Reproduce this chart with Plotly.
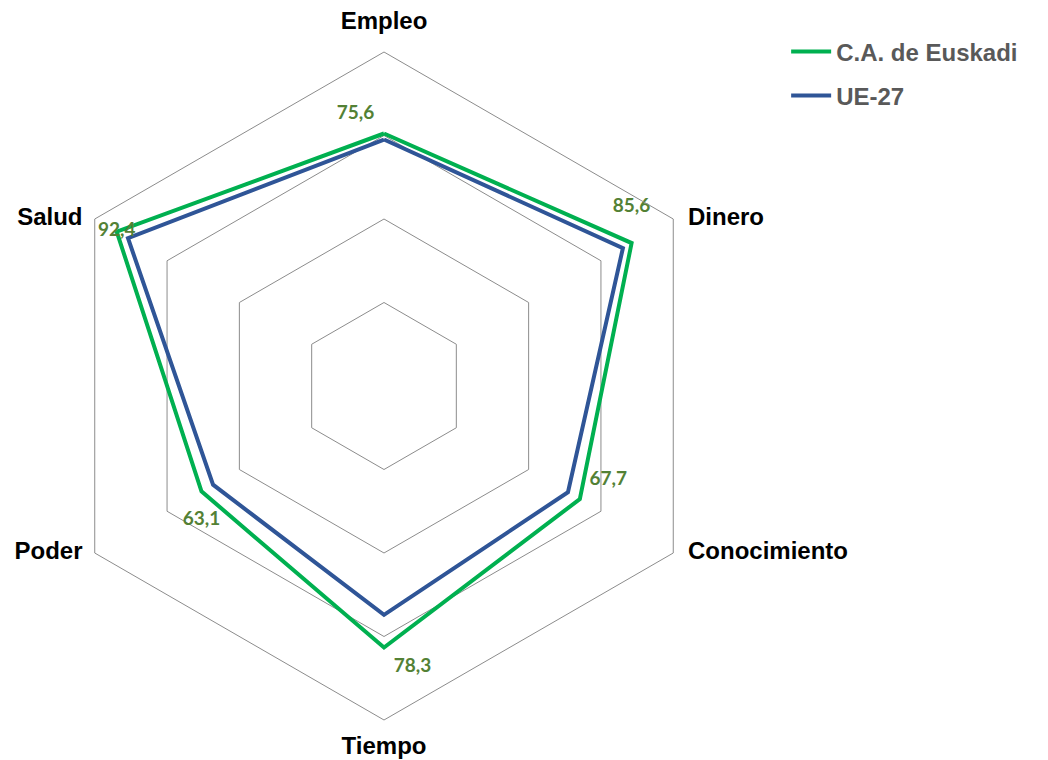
import plotly.graph_objects as go

categories = ["Empleo", "Dinero", "Conocimiento", "Tiempo", "Poder", "Salud"]
euskadi = [75.6, 85.6, 67.7, 78.3, 63.1, 92.4]
ue27 = [73.8, 82.6, 63.6, 68.5, 59.1, 88.5]
radial_max = 100
label_positions = ["top left", "top center", "top right", "bottom right", "bottom center", "middle center"]
category_positions = ["top center", "middle right", "middle right", "bottom center", "middle left", "middle left"]

def closed(vals):
    return list(vals) + [vals[0]]

def fmt(v):
    return f"{v:.1f}".replace(".", ",")

fig = go.Figure()
fig.add_trace(go.Scatterpolar(
    r=closed(ue27), theta=closed(categories), mode="lines",
    name="UE-27", line=dict(color="#2F5597", width=4),
    legendrank=2, legendgroup="b", hoverinfo="skip",
))
fig.add_trace(go.Scatterpolar(
    r=closed(euskadi), theta=closed(categories), mode="lines",
    name="C.A. de Euskadi", line=dict(color="#00B050", width=4),
    legendrank=1, legendgroup="a", hoverinfo="skip",
))
# data labels (invisible markers give the text its offset from the vertex)
fig.add_trace(go.Scatterpolar(
    r=euskadi, theta=categories, mode="markers+text",
    marker=dict(size=[14, 40, 14, 14, 30, 6], color="rgba(0,0,0,0)",
                line=dict(width=0, color="rgba(0,0,0,0)")),
    text=[fmt(v) for v in euskadi],
    textposition=label_positions,
    textfont=dict(family="Lato", size=19, color="#538135", weight="bold"),
    showlegend=False, hoverinfo="skip", cliponaxis=False,
))
# category labels at the outer ring
fig.add_trace(go.Scatterpolar(
    r=[radial_max] * len(categories), theta=categories, mode="markers+text",
    marker=dict(size=[26, 22, 22, 24, 18, 18], color="rgba(0,0,0,0)",
                line=dict(width=0, color="rgba(0,0,0,0)")),
    text=categories,
    textposition=category_positions,
    textfont=dict(family="Liberation Sans", size=24, color="black", weight="bold"),
    showlegend=False, hoverinfo="skip", cliponaxis=False,
))

fig.update_layout(
    width=1048, height=760,
    margin=dict(l=0, r=0, t=0, b=0),
    paper_bgcolor="white", plot_bgcolor="white",
    showlegend=True,
    legend=dict(
        x=0.7425, y=0.972, xanchor="left", yanchor="top",
        font=dict(family="Liberation Sans", size=24, color="#595959", weight="bold"),
        traceorder="grouped", tracegroupgap=10, itemwidth=40,
    ),
    polar=dict(
        domain=dict(x=[42/1048, 710/1048], y=[48/760, 716/760]),
        gridshape="linear",
        bgcolor="white",
        radialaxis=dict(
            range=[0, radial_max], tickvals=[25, 50, 75, 100],
            showticklabels=False, ticks="", showline=False,
            gridcolor="#8C8C8C", gridwidth=1,
        ),
        angularaxis=dict(
            direction="clockwise", rotation=90,
            showgrid=False, showline=True, linecolor="#8C8C8C", linewidth=1,
            ticks="", showticklabels=False,
        ),
    ),
)

fig.write_html("out.html")
